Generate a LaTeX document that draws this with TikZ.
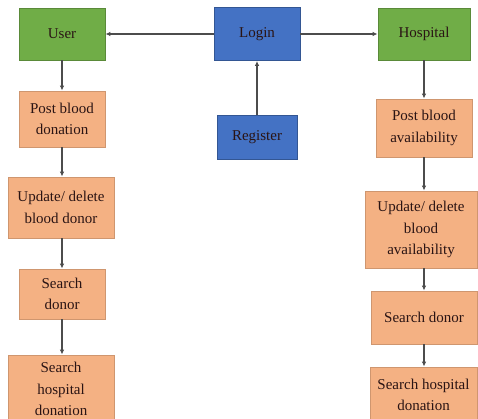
\documentclass[tikz,border=0pt]{standalone}
\usepackage{fontspec}
\setmainfont{Liberation Serif}
\usetikzlibrary{arrows.meta}
\definecolor{boxgreen}{HTML}{70AD47}
\definecolor{boxblue}{HTML}{4472C4}
\definecolor{boxsalmon}{HTML}{F4B183}
\definecolor{txtdark}{HTML}{2A1414}
\tikzset{
  base/.style={draw, line width=0.8pt, inner sep=0pt, align=center,
    text=txtdark, font=\fontsize{15}{21.7}\selectfont},
  actor/.style={base, fill=boxgreen, draw=boxgreen!80!black},
  access/.style={base, fill=boxblue, draw=boxblue!75!black},
  task/.style={base, fill=boxsalmon, draw=boxsalmon!85!black},
  link/.style={draw=black!70, line width=1.3pt, -{Latex[length=5pt,width=4.5pt]}}
}
\begin{document}
\begin{tikzpicture}[x=1pt,y=-1pt]
\useasboundingbox (0,0) rectangle (478,419);
% top row
\node[actor, minimum width=86pt, minimum height=52pt] (user) at (62,34) {User};
\node[access, minimum width=86pt, minimum height=53pt] (login) at (257,34) {Login};
\node[actor, minimum width=92pt, minimum height=52pt] (hosp) at (424,34) {Hospital};
\node[access, minimum width=80pt, minimum height=44pt] (reg) at (257,137) {Register};
% user column
\node[task, minimum width=86pt, minimum height=56pt] (postdon) at (62,119) {Post blood\\donation};
\node[task, minimum width=106pt, minimum height=61pt] (upddon) at (61,207.5) {Update/ delete\\blood donor};
\node[task, minimum width=86pt, minimum height=50pt] (srchdon) at (62,294) {Search\\donor};
\node[task, minimum width=106pt, minimum height=68pt] (srchhosp) at (61,389) {Search\\hospital\\donation};
% hospital column
\node[task, minimum width=96pt, minimum height=58pt] (postav) at (424,128) {Post blood\\availability};
\node[task, minimum width=112pt, minimum height=77pt] (updav) at (421,229.5) {Update/ delete\\blood\\availability};
\node[task, minimum width=106pt, minimum height=53pt] (srchdonh) at (424,317.5) {Search donor};
\node[task, minimum width=107pt, minimum height=56pt] (srchhosph) at (423.5,395) {Search hospital\\donation};
% connectors
\draw[link] (login) -- (user);
\draw[link] (login) -- (hosp);
\draw[link] (reg) -- (login);
\draw[link] (user) -- (user |- postdon.north);
\draw[link] (postdon) -- (postdon |- upddon.north);
\draw[link] (srchdon |- upddon.south) -- (srchdon);
\draw[link] (srchdon) -- (srchdon |- srchhosp.north);
\draw[link] (hosp) -- (hosp |- postav.north);
\draw[link] (postav.south) -- (postav |- updav.north);
\draw[link] (postav |- updav.south) -- (srchdonh);
\draw[link] (srchdonh) -- (srchdonh |- srchhosph.north);
\end{tikzpicture}
\end{document}
